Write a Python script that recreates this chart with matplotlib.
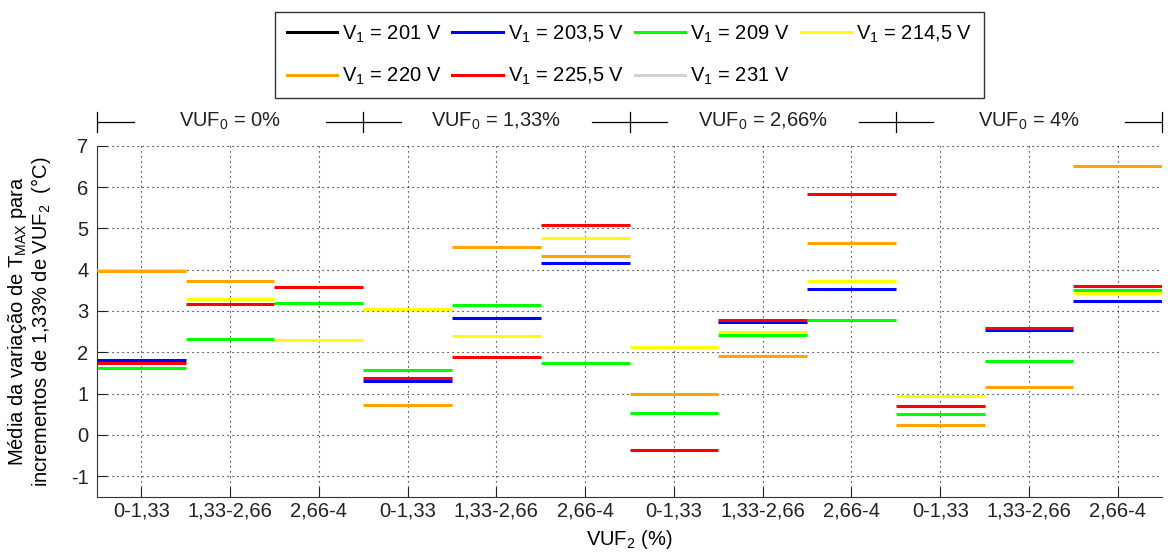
import numpy as np
import matplotlib
matplotlib.use("Agg")
import matplotlib.pyplot as plt
import matplotlib.transforms as mtransforms
from matplotlib.lines import Line2D

plt.rcParams['font.family'] = ['Liberation Sans', 'DejaVu Sans']
plt.rcParams['mathtext.fontset'] = 'custom'
plt.rcParams['mathtext.rm'] = 'Liberation Sans'
plt.rcParams['mathtext.it'] = 'Liberation Sans'
plt.rcParams['axes.unicode_minus'] = False

# Data: one value per (VUF0 group, VUF2 range) -> 12 segments
vuf0_labels = ['0%', '1,33%', '2,66%', '4%']
vuf2_labels = ['0-1,33', '1,33-2,66', '2,66-4']
series_labels = ['V$_1$ = 201 V', 'V$_1$ = 203,5 V', 'V$_1$ = 209 V', 'V$_1$ = 214,5 V',
                 'V$_1$ = 220 V', 'V$_1$ = 225,5 V', 'V$_1$ = 231 V']
series_colors = ['#000000', '#0000ff', '#00ff00', '#ffff00', '#ffa500', '#ff0000', '#d3d3d3']

nan = np.nan
v201 = [nan, nan, nan, nan, nan, nan, nan, nan, nan, nan, nan, nan]
v203_5 = [1.82, nan, nan, 1.30, 2.82, 4.17, nan, 2.74, 3.54, nan, 2.55, 3.23]
v209 = [1.63, 2.32, 3.20, 1.57, 3.14, 1.73, 0.53, 2.42, 2.79, 0.50, 1.78, 3.52]
v214_5 = [4.00, 3.30, 2.30, 3.04, 2.39, 4.77, 2.13, 2.49, 3.73, 0.95, nan, 3.43]
v220 = [3.97, 3.73, nan, 0.73, 4.55, 4.33, 0.98, 1.91, 4.64, 0.23, 1.16, 6.52]
v225_5 = [1.73, 3.18, 3.58, 1.39, 1.88, 5.07, -0.37, 2.77, 5.82, 0.70, 2.60, 3.61]
v231 = [nan, nan, nan, nan, nan, nan, nan, nan, nan, nan, nan, nan]

series = [v201, v203_5, v209, v214_5, v220, v225_5, v231]

FS = 14.5

fig = plt.figure(figsize=(11.68, 5.54), dpi=100)
ax = fig.add_axes([0.083, 0.103, 0.912, 0.634])

x = np.arange(1, 13)
for vals, col in zip(series, series_colors):
    vals = np.array(vals, dtype=float)
    ok = ~np.isnan(vals)
    ax.hlines(vals[ok], x[ok] - 0.5, x[ok] + 0.5, colors=col, linewidth=2.2, zorder=3)

ax.set_xlim(0.5, 12.5)
ax.set_ylim(-1.5, 7)
ax.set_yticks(np.arange(-1, 8))
ax.set_xticks(x)
ax.set_xticklabels(vuf2_labels * len(vuf0_labels))
ax.tick_params(direction='in', length=7, labelsize=FS, colors='#222222')
ax.tick_params(axis='y', pad=6)
ax.spines['top'].set_visible(False)
ax.spines['right'].set_visible(False)
for s in ('left', 'bottom'):
    ax.spines[s].set_color('#333333')
ax.grid(True, linestyle=(0, (1, 3.5)), color='black', linewidth=0.8)
ax.set_axisbelow(True)

ax.set_ylabel('Média da variação de T$_{MAX}$ para\nincrementos de 1,33% de VUF$_2$  (°C)',
              fontsize=FS, labelpad=13, linespacing=1.0)
ax.set_xlabel('VUF$_2$ (%)', fontsize=FS, labelpad=5)

# group annotation above the axes
trans = mtransforms.blended_transform_factory(ax.transData, ax.transAxes)
ya = 1.068
arm = 0.42
bounds = [0.5, 3.5, 6.5, 9.5, 12.5]
for b in bounds:
    x0 = max(b - arm, 0.5)
    x1 = min(b + arm, 12.5)
    ax.plot([x0, x1], [ya, ya], color='black', lw=0.9, transform=trans, clip_on=False)
    ax.plot([b, b], [ya - 0.028, ya + 0.028], color='black', lw=0.9, transform=trans, clip_on=False)
for i, lab in enumerate(vuf0_labels):
    ax.text(2 + 3 * i, ya, 'VUF$_0$ = ' + lab, transform=trans, ha='center', va='center',
            fontsize=FS, color='#222222')

# legend filled row by row (matplotlib fills column by column)
handles = [Line2D([], [], color=c, lw=2.2) for c in series_colors]
order = [0, 4, 1, 5, 2, 6, 3]
leg = fig.legend([handles[i] for i in order], [series_labels[i] for i in order],
                 ncol=4, loc='upper center', borderaxespad=0,
                 bbox_to_anchor=(0.539, 0.978), fontsize=FS, frameon=True, fancybox=False,
                 edgecolor='black', handlelength=2.5, handletextpad=0.25, columnspacing=0.55,
                 labelspacing=1.05, borderpad=0.55)
leg.get_frame().set_linewidth(1.0)

fig.savefig('out.png', dpi=100)
